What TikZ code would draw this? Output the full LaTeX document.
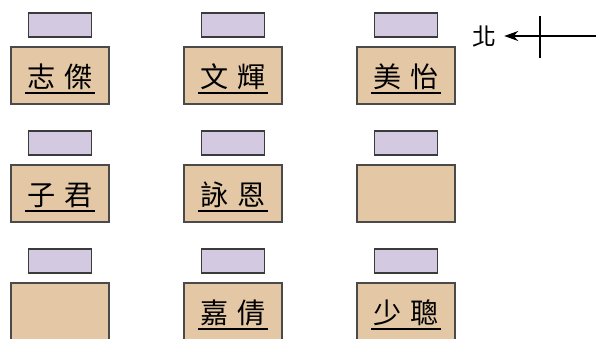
\documentclass[tikz,border=0pt]{standalone}
\usepackage{fontspec}
\newfontfamily\cjk{Noto Sans CJK TC}
\usetikzlibrary{arrows.meta}
\definecolor{deskfill}{HTML}{E4C8A6}
\definecolor{chairfill}{HTML}{D3CAE2}
\definecolor{edgegray}{HTML}{4A4A4A}

\begin{document}
\begin{tikzpicture}[x=0.025cm, y=-0.025cm,
  desk/.style={draw=edgegray, line width=1.2pt, fill=deskfill, minimum width=2.45cm, minimum height=1.425cm, inner sep=0pt},
  chair/.style={draw=edgegray!80!black, line width=1.2pt, fill=chairfill, minimum width=1.575cm, minimum height=0.6cm, inner sep=0pt},
  pupil/.style={font=\cjk\fontsize{20}{20}\selectfont, inner xsep=0.05cm, inner ysep=0pt, anchor=base},
  uline/.style={line width=1.3pt}]
\useasboundingbox (0,0) rectangle (596,338);

% desks and chairs
\foreach \col in {0,1,2}
  \foreach \row in {0,1,2} {
    \node[desk] (desk-\col-\row) at (60+173*\col, 75.5+118*\row) {};
    \node[chair] (chair-\col-\row) at (60+173*\col, 25+118*\row) {};
  }

% names
\foreach \col/\row/\who in {0/0/志\kern.3em傑, 1/0/文\kern.3em輝, 2/0/美\kern.3em怡,
    0/1/子\kern.3em君, 1/1/詠\kern.3em恩, 1/2/嘉\kern.3em倩, 2/2/少\kern.3em聰} {
  \node[pupil] (name-\col-\row) at (60+173*\col, 87+118*\row) {\who};
  \draw[uline] ([yshift=-0.15cm]name-\col-\row.base west) -- ([yshift=-0.15cm]name-\col-\row.base east);
}

% north sign
\node[font=\cjk\fontsize{17}{17}\selectfont, inner sep=0.2cm] (bei) at (484,37) {北};
\coordinate (arrowend) at (596,36);
\coordinate (crosstop) at (540,16);
\coordinate (crossbot) at (540,58);
\draw[line width=1pt, -{Stealth[length=0.35cm, width=0.25cm]}] (arrowend) -- (bei.east |- arrowend);
\draw[line width=1pt] (crosstop) -- (crossbot);
\end{tikzpicture}
\end{document}
